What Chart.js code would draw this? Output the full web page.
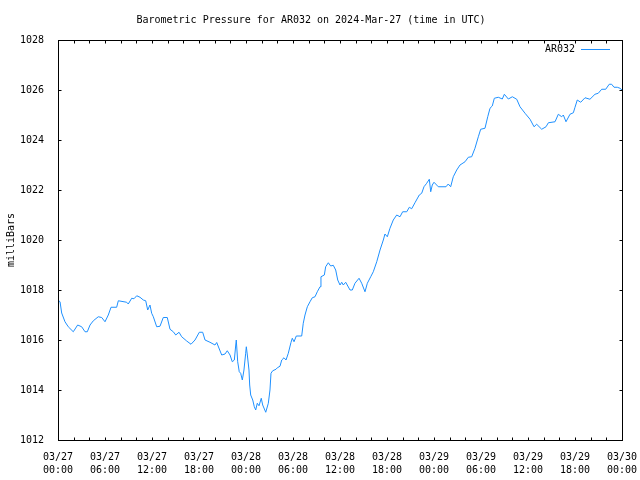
<!DOCTYPE html>
<html>
<head>
<meta charset="utf-8">
<title>Barometric Pressure AR032</title>
<script src="https://cdn.jsdelivr.net/npm/chart.js@4.4.1/dist/chart.umd.min.js"></script>
<style>
  html, body { margin: 0; padding: 0; background: #fff; }
  canvas { display: block; }
</style>
</head>
<body>
<canvas id="pressureChart" width="640" height="480"></canvas>
<script>
// hours since 2024-03-27 00:00 UTC
const stationName = 'AR032';
const hours = [
  0, 0.26, 0.47, 0.89, 1.31, 1.95, 2.51, 3.02, 3.45, 3.74,
  4.09, 4.51, 5.14, 5.58, 6.0, 6.42, 6.77, 7.49, 7.70, 8.77,
  8.97, 9.41, 9.70, 10.05, 10.47, 10.89, 11.20, 11.45, 11.74, 11.96,
  12.17, 12.60, 13.02, 13.44, 13.95, 14.30, 14.72, 15.03, 15.45, 15.79,
  16.43, 16.98, 17.49, 18.04, 18.47, 18.77, 19.40, 20.04, 20.26, 20.90,
  21.32, 21.61, 21.96, 22.25, 22.51, 22.69, 22.76, 22.94, 23.14, 23.32,
  23.53, 23.74, 23.96, 24.04, 24.17, 24.38, 24.47, 24.60, 24.86, 25.06,
  25.24, 25.44, 25.66, 25.95, 26.13, 26.52, 26.85, 27.06, 27.19, 27.41,
  27.83, 28.00, 28.34, 28.56, 28.85, 29.11, 29.40, 29.74, 29.91, 30.13,
  30.42, 31.11, 31.31, 31.53, 31.83, 32.17, 32.46, 32.81, 33.10, 33.45,
  33.57, 34.00, 34.17, 34.51, 34.81, 35.14, 35.45, 35.71, 36.00, 36.22,
  36.42, 36.73, 37.28, 37.57, 37.91, 38.43, 38.77, 39.19, 39.49, 39.92,
  40.25, 40.69, 41.11, 41.53, 41.74, 42.04, 42.38, 42.80, 43.24, 43.66,
  44.00, 44.52, 44.85, 45.15, 45.57, 46.12, 46.43, 46.72, 47.07, 47.40,
  47.58, 47.78, 48.00, 48.55, 49.53, 49.82, 50.13, 50.46, 50.90, 51.32,
  51.96, 52.38, 52.81, 53.23, 53.66, 53.96, 54.51, 54.86, 55.15, 55.44,
  55.70, 56.21, 56.72, 56.98, 57.49, 58.00, 58.56, 58.98, 59.62, 60.26,
  60.77, 61.11, 61.75, 62.30, 62.60, 63.45, 63.87, 64.30, 64.51, 64.85,
  65.36, 65.79, 66.00, 66.29, 66.73, 67.28, 67.91, 68.55, 68.97, 69.41,
  69.92, 70.37, 70.68, 70.98, 71.40, 71.74, 72.00
];
const pressure = [
  1017.60, 1017.53, 1017.08, 1016.73, 1016.53, 1016.33, 1016.60, 1016.53, 1016.33, 1016.33,
  1016.60, 1016.77, 1016.93, 1016.90, 1016.73, 1017.00, 1017.31, 1017.31, 1017.57, 1017.51,
  1017.44, 1017.67, 1017.65, 1017.77, 1017.71, 1017.60, 1017.57, 1017.20, 1017.40, 1017.07,
  1016.93, 1016.53, 1016.55, 1016.90, 1016.90, 1016.43, 1016.33, 1016.20, 1016.31, 1016.13,
  1015.96, 1015.83, 1016.00, 1016.31, 1016.31, 1016.00, 1015.91, 1015.80, 1015.90, 1015.40,
  1015.44, 1015.57, 1015.40, 1015.13, 1015.20, 1015.80, 1016.00, 1015.13, 1014.73, 1014.67,
  1014.40, 1014.80, 1015.47, 1015.73, 1015.40, 1014.80, 1014.20, 1013.80, 1013.60, 1013.33,
  1013.20, 1013.47, 1013.37, 1013.67, 1013.40, 1013.11, 1013.47, 1014.00, 1014.67, 1014.77,
  1014.83, 1014.89, 1014.95, 1015.20, 1015.29, 1015.20, 1015.47, 1015.90, 1016.07, 1015.93,
  1016.16, 1016.16, 1016.67, 1017.00, 1017.33, 1017.53, 1017.69, 1017.73, 1017.93, 1018.13,
  1018.53, 1018.60, 1018.93, 1019.09, 1018.96, 1018.99, 1018.80, 1018.40, 1018.20, 1018.31,
  1018.20, 1018.31, 1018.00, 1018.00, 1018.27, 1018.47, 1018.27, 1017.93, 1018.27, 1018.53,
  1018.73, 1019.13, 1019.60, 1020.00, 1020.24, 1020.13, 1020.47, 1020.80, 1021.00, 1020.93,
  1021.13, 1021.13, 1021.31, 1021.25, 1021.49, 1021.80, 1021.87, 1022.13, 1022.27, 1022.43,
  1021.93, 1022.20, 1022.31, 1022.13, 1022.13, 1022.24, 1022.13, 1022.53, 1022.80, 1023.00,
  1023.13, 1023.31, 1023.33, 1023.67, 1024.13, 1024.43, 1024.47, 1024.93, 1025.27, 1025.36,
  1025.67, 1025.71, 1025.64, 1025.83, 1025.64, 1025.73, 1025.63, 1025.33, 1025.07, 1024.83,
  1024.53, 1024.63, 1024.43, 1024.53, 1024.69, 1024.73, 1025.03, 1024.93, 1025.00, 1024.73,
  1025.03, 1025.09, 1025.31, 1025.60, 1025.51, 1025.69, 1025.63, 1025.83, 1025.87, 1026.03,
  1026.03, 1026.23, 1026.23, 1026.11, 1026.11, 1026.07, 1026.00
];
// one label every 6 hours
const xTickLabels = [
  ['03/27', '00:00'], ['03/27', '06:00'], ['03/27', '12:00'], ['03/27', '18:00'],
  ['03/28', '00:00'], ['03/28', '06:00'], ['03/28', '12:00'], ['03/28', '18:00'],
  ['03/29', '00:00'], ['03/29', '06:00'], ['03/29', '12:00'], ['03/29', '18:00'],
  ['03/30', '00:00']
];

const FONT = 'DejaVu Sans Mono';
const LINE_COLOR = 'rgb(30,144,255)';

Chart.defaults.font.family = FONT;
Chart.defaults.font.size = 10;
Chart.defaults.color = '#000';

// gnuplot style frame with short inward ticks on all four sides
const framePlugin = {
  id: 'frame',
  afterDatasetsDraw(chart) {
    const { ctx, chartArea: a, scales } = chart;
    const L = Math.round(a.left) + 0.5, R = Math.round(a.right) + 0.5;
    const T = Math.round(a.top) + 0.5, B = Math.round(a.bottom) + 0.5;
    ctx.save();
    ctx.strokeStyle = '#000';
    ctx.lineWidth = 1;
    ctx.beginPath();
    scales.x.ticks.forEach(t => {
      const px = Math.round(scales.x.getPixelForValue(t.value)) + 0.5;
      ctx.moveTo(px, T); ctx.lineTo(px, T + 3);
      ctx.moveTo(px, B); ctx.lineTo(px, B - 3);
    });
    scales.y.ticks.forEach(t => {
      const py = Math.round(scales.y.getPixelForValue(t.value)) + 0.5;
      ctx.moveTo(L, py); ctx.lineTo(L + 3, py);
      ctx.moveTo(R, py); ctx.lineTo(R - 3, py);
    });
    ctx.stroke();
    ctx.strokeRect(L, T, R - L, B - T);
    ctx.restore();
  }
};

// legend drawn inside the plot, text left of the line sample
const insideLegend = {
  id: 'insideLegend',
  afterDraw(chart) {
    const { ctx, chartArea: a } = chart;
    const ds = chart.data.datasets[0];
    const y = Math.round(a.top + 9) + 0.5;
    ctx.save();
    ctx.font = '10px "' + FONT + '"';
    ctx.fillStyle = '#000';
    ctx.textAlign = 'right';
    ctx.textBaseline = 'middle';
    ctx.fillText(ds.label, a.right - 47, y);
    ctx.strokeStyle = ds.borderColor;
    ctx.lineWidth = 1;
    ctx.beginPath();
    ctx.moveTo(a.right - 41, y);
    ctx.lineTo(a.right - 12, y);
    ctx.stroke();
    ctx.restore();
  }
};

new Chart(document.getElementById('pressureChart'), {
  type: 'line',
  data: {
    datasets: [{
      label: stationName,
      data: hours.map((h, i) => ({ x: h, y: pressure[i] })),
      borderColor: LINE_COLOR,
      backgroundColor: LINE_COLOR,
      borderWidth: 1,
      pointRadius: 0,
      tension: 0,
      fill: false
    }]
  },
  options: {
    responsive: false,
    animation: false,
    devicePixelRatio: 1,
    layout: { padding: { left: 0, right: 18, top: 0, bottom: 0 } },
    plugins: {
      legend: { display: false },
      tooltip: { enabled: false },
      title: {
        display: true,
        text: 'Barometric Pressure for AR032 on 2024-Mar-27 (time in UTC)',
        font: { size: 10, weight: 'normal' },
        color: '#000',
        padding: { top: 14, bottom: 14 }
      }
    },
    scales: {
      x: {
        type: 'linear',
        min: 0,
        max: 72,
        grid: { display: false },
        border: { display: false },
        ticks: {
          stepSize: 2,
          autoSkip: false,
          maxRotation: 0,
          padding: 3,
          font: { size: 10, lineHeight: 1.3 },
          callback: v => (v % 6 === 0 ? xTickLabels[v / 6] : '')
        },
        afterFit(scale) {
          scale.height = 40;
          scale.paddingLeft = 0;
          scale.paddingRight = 0;
        }
      },
      y: {
        min: 1012,
        max: 1028,
        grid: { display: false },
        border: { display: false },
        ticks: {
          stepSize: 2,
          padding: 6,
          font: { size: 10 },
          callback: v => String(v)
        },
        title: {
          display: true,
          text: 'milliBars',
          font: { size: 10 },
          padding: { top: 5, bottom: 0 }
        },
        afterFit(scale) {
          scale.width = 58;
          scale.paddingTop = 0;
          scale.paddingBottom = 0;
        }
      }
    }
  },
  plugins: [framePlugin, insideLegend]
});
</script>
</body>
</html>
